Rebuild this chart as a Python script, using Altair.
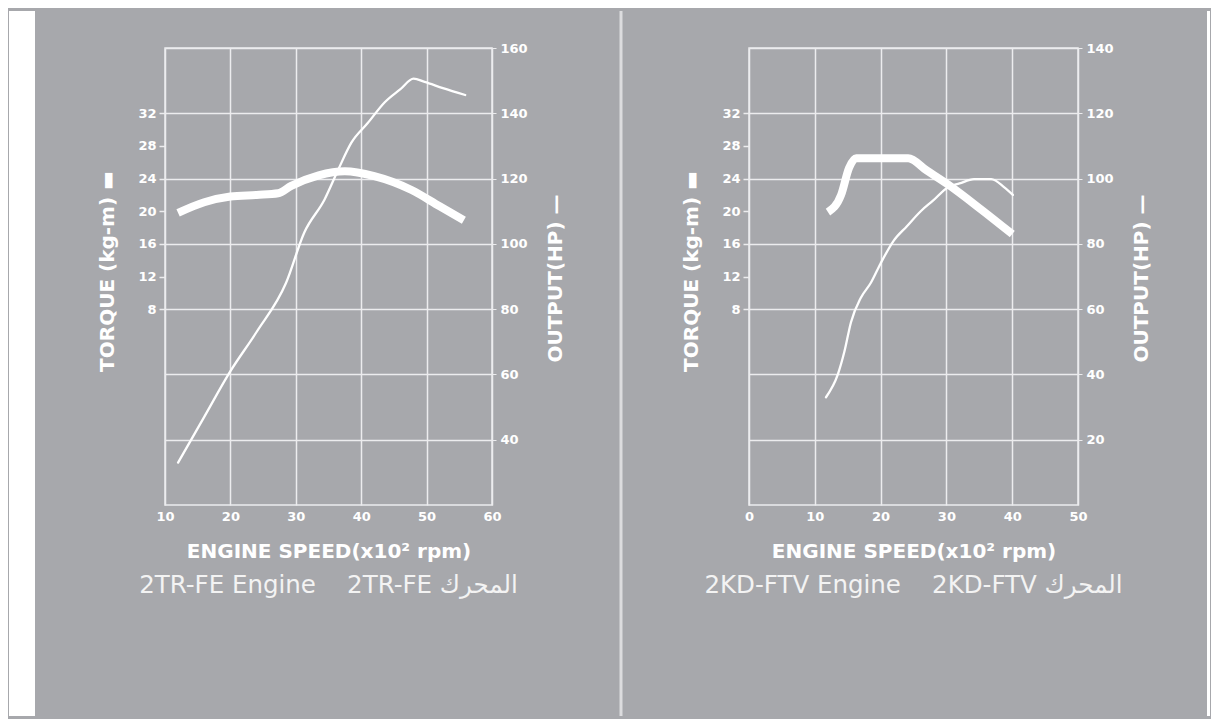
import altair as alt
import pandas as pd

BG = "#a7a8ac"
GRID = "#ececee"
FONT = "DejaVu Sans"

# ---------- 2TR-FE ----------
rpm_torque_1 = [12, 16, 20, 24, 27.3, 29.3, 33.5, 37.5, 42, 47.7, 52, 55.7]
torque_1 = [19.8, 21.1, 21.8, 22.0, 22.2, 23.1, 24.4, 24.9, 24.3, 22.6, 20.6, 18.9]
rpm_output_1 = [12, 16, 20, 24, 28.5, 31.3, 34.4, 36.5, 38.5, 41, 43.6, 46, 48, 49.7, 52.5, 55.9]
output_1 = [33, 47, 61, 73, 88, 103.5, 113.6, 122.8, 131, 137, 143.4, 147.4, 150.6, 149.6, 147.7, 145.6]

# ---------- 2KD-FTV ----------
rpm_torque_2 = [12, 14, 15.2, 16.3, 20, 24.2, 27, 30.2, 35.3, 40]
torque_2 = [19.9, 22.0, 25.3, 26.5, 26.5, 26.5, 25.0, 23.3, 20.2, 17.2]
rpm_output_2 = [11.7, 13.5, 14.5, 15.5, 17, 18.5, 20, 22, 24, 26.1, 28, 30.2, 32, 34.2, 36.8, 38.8, 40.1]
output_2 = [33, 40, 47, 56, 63.5, 68, 74, 81, 85.4, 90, 93.3, 97.3, 98.5, 99.8, 99.8, 97.3, 95]

x_ticks_1 = [10, 20, 30, 40, 50, 60]
x_ticks_2 = [0, 10, 20, 30, 40, 50]
hp_ticks_1 = [40, 60, 80, 100, 120, 140, 160]
hp_ticks_2 = [20, 40, 60, 80, 100, 120, 140]
torque_ticks = [8, 12, 16, 20, 24, 28, 32]
captions = ["2TR-FE Engine\u00a0\u00a0\u00a0 2TR-FE المحرك",
            "2KD-FTV Engine\u00a0\u00a0\u00a0 2KD-FTV المحرك"]
x_title = "ENGINE SPEED(x10² rpm)"
torque_title = "TORQUE (kg-m) ▬"
output_title = "OUTPUT(HP) —"

H = 457
one = pd.DataFrame({"k": [0]})


def panel(rpm_t, tq, rpm_o, out, x_dom, x_ticks, hp_dom, hp_ticks, caption, width, decor):
    df_t = pd.DataFrame({"rpm": rpm_t, "torque": tq})
    df_o = pd.DataFrame({"rpm": rpm_o, "hp": out})
    x = alt.X(
        "rpm:Q",
        scale=alt.Scale(domain=x_dom, nice=False, zero=False),
        axis=alt.Axis(
            values=x_ticks, format="d", grid=True, gridColor=GRID, gridWidth=1.5,
            domain=False, ticks=False, labelPadding=5, labelFlush=False, labelOverlap=False,
            labelFont=FONT, labelFontSize=13, labelFontWeight="bold", labelColor="white",
            title=x_title, titleFont=FONT, titleFontSize=20, titleFontWeight="bold",
            titleColor="white", titleY=46, titleBaseline="middle",
        ),
    )
    torque_line = alt.Chart(df_t).mark_line(
        strokeWidth=8, color="white", interpolate="monotone", strokeCap="butt", strokeJoin="round"
    ).encode(
        x=x,
        y=alt.Y(
            "torque:Q",
            scale=alt.Scale(domain=[-16, 40], nice=False, zero=False),
            axis=alt.Axis(
                orient="left", values=torque_ticks, grid=False, domain=False,
                tickSize=6, tickColor=GRID, tickWidth=1.5, labelPadding=3, labelOverlap=False,
                labelFont=FONT, labelFontSize=13, labelFontWeight="bold", labelColor="white",
                title=torque_title, titleFont=FONT, titleFontSize=20, titleFontWeight="bold",
                titleColor="white", titleAngle=270, titleX=-58, titleY=223,
                titleAlign="center", titleBaseline="middle",
            ),
        ),
    )
    hp_line = alt.Chart(df_o).mark_line(
        strokeWidth=2.3, color="white", interpolate="monotone", strokeCap="round", strokeJoin="round"
    ).encode(
        x=x,
        y=alt.Y(
            "hp:Q",
            scale=alt.Scale(domain=hp_dom, nice=False, zero=False),
            axis=alt.Axis(
                orient="right", values=hp_ticks, grid=True, gridColor=GRID, gridWidth=1.5,
                domain=False, tickSize=4, tickColor=GRID, labelPadding=4, labelOverlap=False,
                labelFont=FONT, labelFontSize=13, labelFontWeight="bold", labelColor="white",
                title=output_title, titleFont=FONT, titleFontSize=20, titleFontWeight="bold",
                titleColor="white", titleAngle=270, titleX=63, titleY=230,
                titleAlign="center", titleBaseline="middle",
            ),
        ),
    )
    cap = alt.Chart(pd.DataFrame({"caption": [caption]})).mark_text(
        font=FONT, fontSize=24.5, fontWeight="normal", color="#f3f3f3",
        align="center", baseline="middle",
    ).encode(x=alt.value(width / 2), y=alt.value(538), text="caption:N")
    layers = decor + [torque_line, hp_line, cap]
    return alt.layer(*layers).resolve_scale(y="independent").properties(width=width, height=H)


left_strip = alt.Chart(one).mark_rect(color="white").encode(
    x=alt.value(-156), x2=alt.value(-130), y=alt.value(-37), y2=alt.value(668)
)
separator = alt.Chart(one).mark_rule(color="#dcdcde", strokeWidth=3).encode(
    x=alt.value(456), y=alt.value(-37), y2=alt.value(668)
)
right_strip = alt.Chart(one).mark_rect(color="white").encode(
    x=alt.value(458), x2=alt.value(461), y=alt.value(-37), y2=alt.value(668)
)

p1 = panel(rpm_torque_1, torque_1, rpm_output_1, output_1, [10, 60], x_ticks_1,
           [20, 160], hp_ticks_1, captions[0], 327, [left_strip, separator])
p2 = panel(rpm_torque_2, torque_2, rpm_output_2, output_2, [0, 50], x_ticks_2,
           [0, 140], hp_ticks_2, captions[1], 329, [right_strip])

chart = alt.hconcat(p1, p2, spacing=257).properties(
    bounds="flush", padding=0
).configure(background=BG).configure_view(stroke=GRID, strokeWidth=1.5)

chart.save("out.html", embed_options={"renderer": "svg", "actions": False})
